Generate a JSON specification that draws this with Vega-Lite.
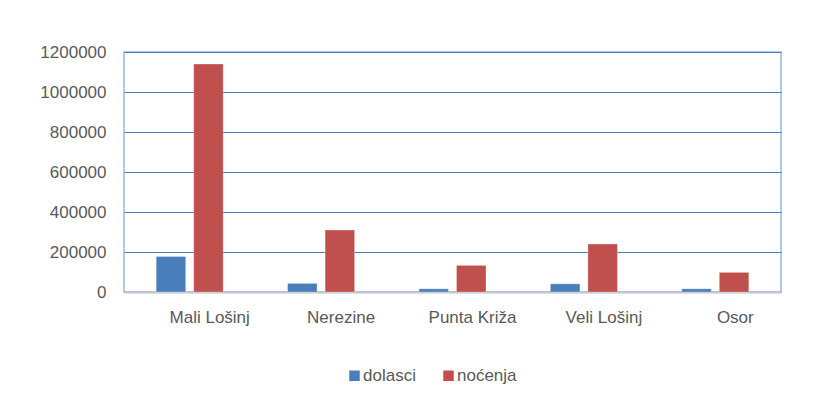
{
  "$schema": "https://vega.github.io/schema/vega-lite/v6.json",
  "autosize": "none",
  "width": 657,
  "height": 240,
  "padding": {"left": 124, "top": 52, "right": 49, "bottom": 108},
  "background": "white",
  "data": {
    "values": [
      {"mjesto": "Mali Lošinj", "serija": "dolasci", "vrijednost": 178000},
      {"mjesto": "Mali Lošinj", "serija": "noćenja", "vrijednost": 1140000},
      {"mjesto": "Nerezine", "serija": "dolasci", "vrijednost": 43000},
      {"mjesto": "Nerezine", "serija": "noćenja", "vrijednost": 310000},
      {"mjesto": "Punta Križa", "serija": "dolasci", "vrijednost": 16000},
      {"mjesto": "Punta Križa", "serija": "noćenja", "vrijednost": 133000},
      {"mjesto": "Veli Lošinj", "serija": "dolasci", "vrijednost": 41000},
      {"mjesto": "Veli Lošinj", "serija": "noćenja", "vrijednost": 240000},
      {"mjesto": "Osor", "serija": "dolasci", "vrijednost": 16000},
      {"mjesto": "Osor", "serija": "noćenja", "vrijednost": 98000}
    ]
  },
  "mark": {"type": "bar", "stroke": "#ffffff", "strokeWidth": 0.5, "strokeOpacity": 0.6},
  "encoding": {
    "x": {
      "field": "mjesto",
      "type": "nominal",
      "sort": null,
      "scale": {"paddingInner": 0, "paddingOuter": 0},
      "axis": {
        "title": null,
        "labelAngle": 0,
        "ticks": false,
        "labelPadding": 17,
        "labelOffset": 20,
        "domainColor": "#c0c4cc",
        "domainWidth": 2,
        "grid": false
      }
    },
    "xOffset": {
      "field": "serija",
      "type": "nominal",
      "scale": {"paddingInner": 0.213, "paddingOuter": 0.858}
    },
    "y": {
      "field": "vrijednost",
      "type": "quantitative",
      "scale": {"domain": [0, 1200000]},
      "axis": {
        "title": null,
        "values": [0, 200000, 400000, 600000, 800000, 1000000, 1200000],
        "format": "d",
        "domain": false,
        "ticks": false,
        "labelPadding": 18,
        "gridColor": "#4a7ebb",
        "gridWidth": 1.2
      }
    },
    "color": {
      "field": "serija",
      "type": "nominal",
      "scale": {"domain": ["dolasci", "noćenja"], "range": ["#4a7ebb", "#c0504d"]},
      "legend": {
        "title": null,
        "orient": "none",
        "direction": "horizontal",
        "legendX": 222,
        "legendY": 315,
        "symbolType": "square",
        "symbolSize": 110,
        "symbolStrokeWidth": 0,
        "symbolOpacity": 1,
        "labelFontSize": 17,
        "labelColor": "#595959",
        "labelFont": "Liberation Sans",
        "labelOffset": 0,
        "columnPadding": 24
      }
    }
  },
  "config": {
    "view": {"stroke": "#9bb7db", "strokeWidth": 1.5},
    "axis": {
      "labelFont": "Liberation Sans",
      "labelFontSize": 17,
      "labelColor": "#595959"
    }
  }
}
